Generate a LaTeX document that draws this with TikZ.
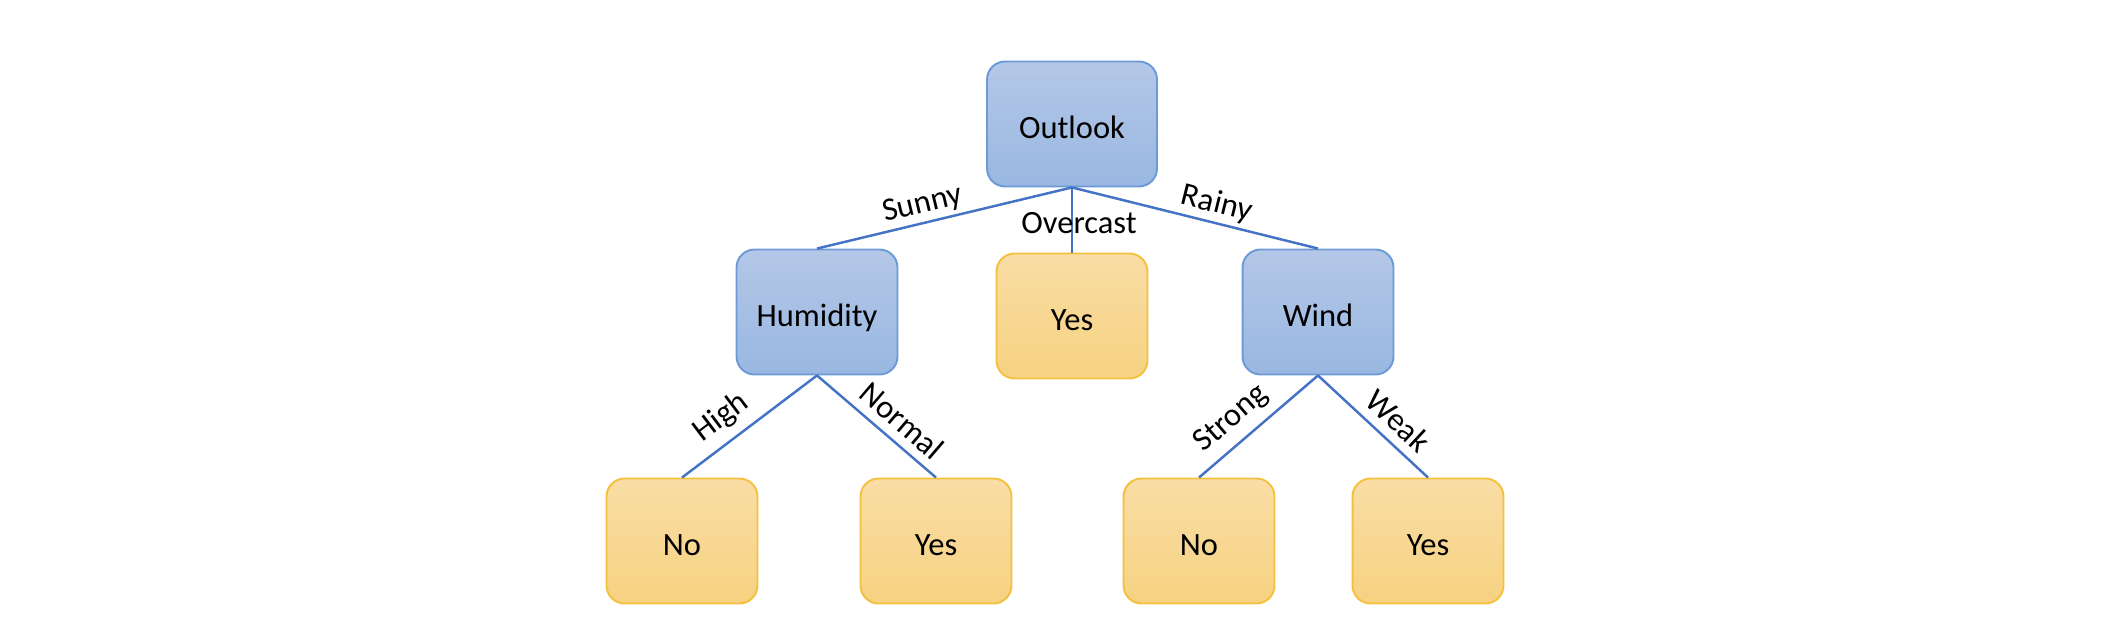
\documentclass[tikz,border=0pt]{standalone}
\usepackage{fontspec}
\setmainfont{Carlito}
\usepackage{tikz}
\usetikzlibrary{positioning}
\definecolor{cEdge}{HTML}{4472C4}
\definecolor{cBlueTop}{HTML}{B4C7E7}
\definecolor{cBlueBot}{HTML}{99B7E1}
\definecolor{cBlueLine}{HTML}{6C9AD6}
\definecolor{cGoldTop}{HTML}{F9DDA5}
\definecolor{cGoldBot}{HTML}{F6D281}
\definecolor{cGoldLine}{HTML}{F3C13E}
\tikzset{
  box/.style={rounded corners=0.36cm, minimum width=3.02cm, minimum height=2.5cm,
              line width=1.1pt, align=center, text height=17pt, text depth=0pt,
              font=\fontsize{18.5}{22}\selectfont},
  attr/.style={box, draw=cBlueLine, top color=cBlueTop, bottom color=cBlueBot},
  leaf/.style={box, draw=cGoldLine, top color=cGoldTop, bottom color=cGoldBot},
  br/.style={cEdge, line width=1.4pt},
  lbl/.style={text=black, font=\fontsize{18.5}{22}\selectfont, inner sep=2pt}
}

\begin{document}
\begin{tikzpicture}[x=0.02cm, y=-0.02cm]
\useasboundingbox (0,0) rectangle (2108,636);
\node[attr, minimum width=3.4cm] (outlook) at (1072,124) {Outlook};
\node[attr, minimum width=3.22cm] (humid) at (817,312) {Humidity};
\node[leaf] (over) at (1072,316) {Yes};
\node[attr] (wind) at (1318,312) {Wind};
\node[leaf] (hino) at (682,541) {No};
\node[leaf] (noyes) at (936,541) {Yes};
\node[leaf] (stno) at (1199,541) {No};
\node[leaf] (wkyes) at (1428,541) {Yes};
% branches
\draw[br] (outlook.south) -- node[lbl, sloped, above, pos=0.57] {Sunny} (humid.north);
\draw[br] (outlook.south) -- node[lbl, pos=0.55, xshift=0.14cm] {Overcast} (over.north);
\draw[br] (outlook.south) -- node[lbl, sloped, above, pos=0.57] {Rainy} (wind.north);
\draw[br] (humid.south) -- node[lbl, sloped, above=3pt, pos=0.6] {High} (hino.north);
\draw[br] (humid.south) -- node[lbl, sloped, above=3pt, pos=0.6] {Normal} (noyes.north);
\draw[br] (wind.south) -- node[lbl, sloped, above=3pt, pos=0.6] {Strong} (stno.north);
\draw[br] (wind.south) -- node[lbl, sloped, above=3pt, pos=0.6] {Weak} (wkyes.north);
\end{tikzpicture}
\end{document}
